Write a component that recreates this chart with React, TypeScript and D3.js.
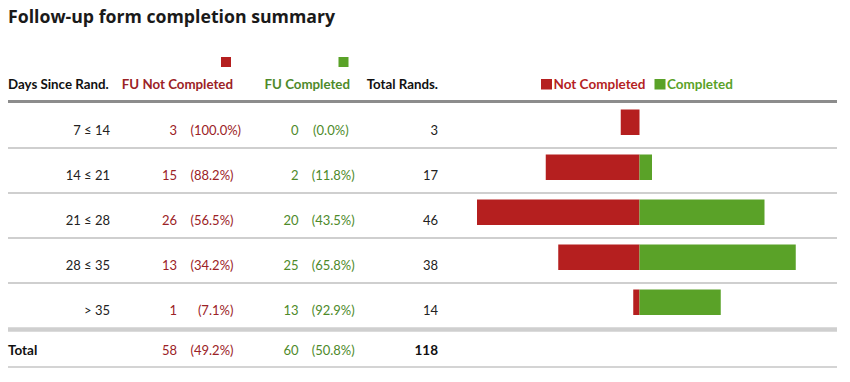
import React from "react";
import * as d3 from "d3";

const title = "Follow-up form completion summary";
const categories = ["7 ≤ 14", "14 ≤ 21", "21 ≤ 28", "28 ≤ 35", "> 35"];
const notCompleted = [3, 15, 26, 13, 1];
const completed = [0, 2, 20, 25, 13];
const headers = ["Days Since Rand.", "FU Not Completed", "FU Completed", "Total Rands."];
const legendLabels = ["Not Completed", "Completed"];

const RED_TEXT = "#9b2226";
const GREEN_TEXT = "#4e8a2a";
const RED_BAR = "#b51f1f";
const GREEN_BAR = "#5aa228";
const FONT = "Lato, 'Noto Sans', sans-serif";

const pct = (v: number, t: number) => `(${((v / t) * 100).toFixed(1)}%)`;

export default function App() {
  const W = 850, H = 382;
  const rowTop = 103;
  const rowH = 45;
  const n = categories.length;
  const totals = categories.map((_, i) => notCompleted[i] + completed[i]);
  const totNC = d3.sum(notCompleted);
  const totC = d3.sum(completed);
  const totAll = totNC + totC;

  const maxV = d3.max([...notCompleted, ...completed]) as number;
  const x = d3.scaleLinear().domain([-maxV, maxV]).range([477, 802]);
  const rows = d3.range(n);
  const y = (i: number) => rowTop + i * rowH;
  const textY = (i: number) => y(i) + 27;

  const redPctX = (s: string) => 190.5 + Math.max(0, 7 - s.length) * 7.4;
  const greenPctX = (s: string) => 311.7 + Math.max(0, 7 - s.length) * 1.4;

  const lineX1 = 8, lineX2 = 837;
  const totalTop = rowTop + n * rowH;

  return (
    <svg width={W} height={H} style={{ position: "absolute", left: 0, top: 0 }} fontFamily={FONT}>
      <rect width={W} height={H} fill="#fff" />
      <text x={8} y={23} fontFamily="'Open Sans', sans-serif" fontWeight={700} fontSize={17.7} fill="#1a1a1a">
        {title}
      </text>

      <rect x={221} y={57} width={10} height={10} fill={RED_BAR} />
      <rect x={338.5} y={57} width={10} height={10} fill={GREEN_BAR} />

      <g fontSize={13.3} fontWeight={700}>
        <text x={8} y={89} fill="#111">{headers[0]}</text>
        <text x={233} y={89} textAnchor="end" fill={RED_TEXT}>{headers[1]}</text>
        <text x={350} y={89} textAnchor="end" fill={GREEN_TEXT}>{headers[2]}</text>
        <text x={438} y={89} textAnchor="end" fill="#111">{headers[3]}</text>
      </g>

      <g fontSize={13.5} fontWeight={700}>
        <rect x={541} y={79} width={11} height={10.5} fill={RED_BAR} />
        <text x={553.5} y={89} fill={RED_BAR}>{legendLabels[0]}</text>
        <rect x={654.5} y={79} width={11} height={10.5} fill={GREEN_BAR} />
        <text x={667} y={89} fill={GREEN_BAR}>{legendLabels[1]}</text>
      </g>

      <line x1={lineX1} x2={lineX2} y1={101.5} y2={101.5} stroke="#8c8c8c" strokeWidth={3} />

      {rows.slice(1).map((i) => (
        <line key={i} x1={lineX1} x2={lineX2} y1={y(i)} y2={y(i)} stroke="#cfcfcf" strokeWidth={2} />
      ))}
      <line x1={lineX1} x2={lineX2} y1={totalTop + 1.5} y2={totalTop + 1.5} stroke="#cfcfcf" strokeWidth={4.5} />
      <line x1={lineX1} x2={lineX2} y1={367} y2={367} stroke="#d4d4d4" strokeWidth={2} />

      <g fontSize={13} dominantBaseline="central">
        {rows.map((i) => {
          const pNC = pct(notCompleted[i], totals[i]);
          const pC = pct(completed[i], totals[i]);
          return (
            <g key={i}>
              <text x={110} y={textY(i)} textAnchor="end" fill="#222">{categories[i]}</text>
              <text x={177} y={textY(i)} textAnchor="end" fill={RED_TEXT}>{notCompleted[i]}</text>
              <text x={redPctX(pNC)} y={textY(i)} fill={RED_TEXT}>{pNC}</text>
              <text x={298.5} y={textY(i)} textAnchor="end" fill={GREEN_TEXT}>{completed[i]}</text>
              <text x={greenPctX(pC)} y={textY(i)} fill={GREEN_TEXT}>{pC}</text>
              <text x={438} y={textY(i)} textAnchor="end" fill="#222">{totals[i]}</text>
            </g>
          );
        })}
        {(() => {
          const ty = 349.5;
          const pNC = pct(totNC, totAll);
          const pC = pct(totC, totAll);
          return (
            <g>
              <text x={8} y={ty} fontWeight={700} fontSize={13.5} fill="#111">Total</text>
              <text x={177} y={ty} textAnchor="end" fill={RED_TEXT}>{totNC}</text>
              <text x={redPctX(pNC)} y={ty} fill={RED_TEXT}>{pNC}</text>
              <text x={298.5} y={ty} textAnchor="end" fill={GREEN_TEXT}>{totC}</text>
              <text x={greenPctX(pC)} y={ty} fill={GREEN_TEXT}>{pC}</text>
              <text x={438} y={ty} textAnchor="end" fontWeight={700} fontSize={13.5} fill="#111">{totAll}</text>
            </g>
          );
        })()}
      </g>

      {rows.map((i) => (
        <g key={i}>
          <rect x={x(-notCompleted[i])} y={y(i) + 6.5} width={x(0) - x(-notCompleted[i])} height={25.5} fill={RED_BAR} />
          <rect x={x(0)} y={y(i) + 6.5} width={x(completed[i]) - x(0)} height={25.5} fill={GREEN_BAR} />
        </g>
      ))}
    </svg>
  );
}
